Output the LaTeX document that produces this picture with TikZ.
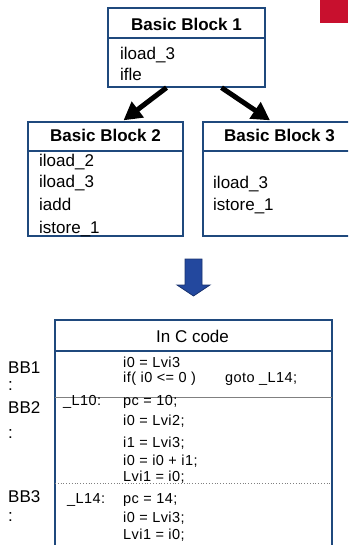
\documentclass[tikz,border=0pt]{standalone}
\usepackage{fontspec}
\setmainfont{Liberation Sans}
\newfontfamily\codefont[LetterSpace=3]{Liberation Sans}
\usetikzlibrary{calc,arrows.meta}
\definecolor{navy}{RGB}{31,73,125}
\definecolor{bluearrow}{RGB}{35,72,158}
\definecolor{bluedark}{RGB}{25,50,110}
\definecolor{logored}{RGB}{200,16,46}
\tikzset{
  blockbox/.style={draw=navy, line width=1.3pt, minimum width=#1, inner sep=0pt},
  hdr/.style={font=\fontsize{17}{17}\selectfont\bfseries, anchor=base, inner sep=0pt},
  ins/.style={font=\fontsize{17}{17}\selectfont, anchor=base west, inner sep=0pt},
  code/.style={font=\codefont\fontsize{14.5}{14.5}\selectfont, anchor=base west, inner sep=0pt},
  bblab/.style={font=\fontsize{17}{17}\selectfont, anchor=base west, inner sep=0pt},
  flow/.style={line width=5pt, -{Triangle[length=18pt,width=19pt]}}
}
\begin{document}
\begin{tikzpicture}[x=1pt,y=-1pt]
\useasboundingbox (0,0) rectangle (348,545);
\clip (0,0) rectangle (348,545);
% red logo square
\fill[logored] (320,0) rectangle (348,23);
% Basic Block 1
\node[blockbox=157pt, minimum height=79pt] (bb1) at (186.5,47.5) {};
\draw[navy, line width=1.3pt] (108,38) -- (265,38);
\node[hdr] (h1) at (186.5,31) {Basic Block 1};
\node[ins] (b1a) at (120,60) {iload\_3};
\node[ins] (b1b) at (120,81) {ifle};
% Basic Block 2
\node[blockbox=155pt, minimum height=114pt] (bb2) at (105.5,179) {};
\draw[navy, line width=1.3pt] (28,151) -- (183,151);
\node[hdr] (h2) at (105.5,142) {Basic Block 2};
\node[ins] (b2a) at (39,167) {iload\_2};
\node[ins] (b2b) at (39,188) {iload\_3};
\node[ins] (b2c) at (39,210) {iadd};
\node[ins] (b2d) at (39,233) {istore\_1};
% Basic Block 3
\node[blockbox=160pt, minimum height=114pt] (bb3) at (283,179) {};
\draw[navy, line width=1.3pt] (203,151) -- (363,151);
\node[hdr] (h3) at (279.5,142) {Basic Block 3};
\node[ins] (b3a) at (213,189) {iload\_3};
\node[ins] (b3b) at (213,210) {istore\_1};
% flow arrows
\draw[flow] ($(bb1.south)+(-20,0)$) -- ($(bb2.north)+(18,-1)$);
\draw[flow] ($(bb1.south)+(35,0)$) -- ($(bb3.north)+(-13,-1)$);
% big blue down arrow
\draw[bluedark, fill=bluearrow, line width=0.8pt]
  (185,259) -- (202,259) -- (202,285) -- (210,285) -- (193.5,296) -- (177,285) -- (185,285) -- cycle;
% C code table
\node[blockbox=277pt, minimum height=240pt] (ctab) at (193.5,440) {};
\draw[navy, line width=1.3pt] (55,351) -- (332,351);
\node[hdr, font=\fontsize{17}{17}\selectfont] (hc) at (192.5,342) {In C code};
\draw[gray, line width=0.8pt] (55,397) -- (332,397);
\draw[gray, line width=0.8pt, dotted] (55,483) -- (332,483);
\node[code] (c1) at (123,367) {i0 = Lvi3};
\node[code] (c2) at (123,382) {\makebox[102pt][l]{if( i0 <= 0 )}goto \_L14;};
\node[code] (l10) at (63,405) {\_L10:};
\node[code] (c3) at (123,405) {pc = 10;};
\node[code] (c4) at (123,425) {i0 = Lvi2;};
\node[code] (c5) at (123,447) {i1 = Lvi3;};
\node[code] (c6) at (123,465) {i0 = i0 + i1;};
\node[code] (c7) at (123,481) {Lvi1 = i0;};
\node[code] (l14) at (67,503) {\_L14:};
\node[code] (c8) at (123,503) {pc = 14;};
\node[code] (c9) at (123,522) {i0 = Lvi3;};
\node[code] (c10) at (123,539) {Lvi1 = i0;};
% BB labels
\node[bblab] (lb1) at (8,373) {BB1};
\node[bblab] (lb1c) at (8,390) {:};
\node[bblab] (lb2) at (8,413) {BB2};
\node[bblab] (lb2c) at (8,438) {:};
\node[bblab] (lb3) at (8,502) {BB3};
\node[bblab] (lb3c) at (8,521) {:};
\end{tikzpicture}
\end{document}
